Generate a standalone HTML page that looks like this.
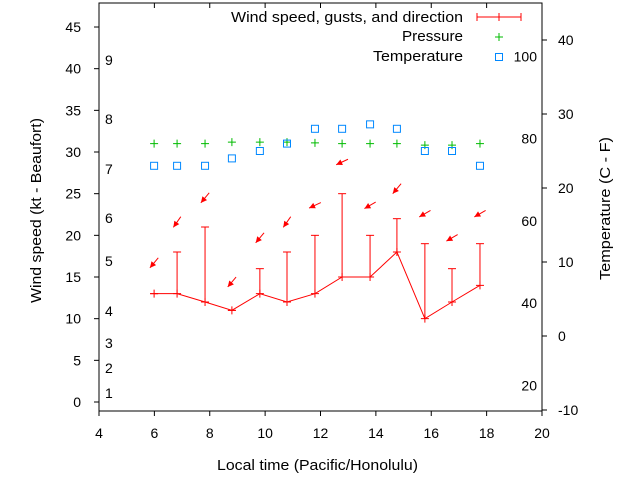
<!DOCTYPE html>
<html><head><meta charset="utf-8"><style>
body{margin:0;background:#fff}
svg{display:block;font-family:"Liberation Sans",sans-serif;font-size:14px}
</style></head><body>
<svg id="chart" width="640" height="480" viewBox="0 0 640 480">
<rect width="640" height="480" fill="#fff"/>
<g id="axes"></g><g id="marks"></g>
</svg>
<script>
const hours=[5.99,6.82,7.83,8.8,9.81,10.79,11.8,12.78,13.79,14.76,15.77,16.75,17.76];
const wind=[13,13,12,11,13,12,13,15,15,18,10,12,14];
const gusts=[13,18,21,11,16,18,20,25,20,22,19,16,19];
const dirDeg=[40,35,40,40,40,35,65,65,60,40,60,60,60];
const arrowKt=[16.7,21.6,24.5,14.4,19.7,21.6,23.6,28.8,23.6,25.6,22.6,19.7,22.6];
const pressure=[26,26,26,26.2,26.2,26.2,26.1,26,26,26,25.8,25.8,26];
const tempC=[23,23,23,24,25,26,28,28,28.6,28,25,25,23];
const xTicks=[4,6,8,10,12,14,16,18,20];
const yTicks=[0,5,10,15,20,25,30,35,40,45];
const y2Ticks=[-10,0,10,20,30,40];
const beaufort=[[1,393],[2,368],[3,343],[4,311],[5,261],[6,218],[7,169],[8,119],[9,60]];
const fahr=[20,40,60,80,100];

const L=99,R=542,T=3,B=411;
const X=h=>L+(h-4)*(R-L)/16;
const Y=k=>402-k*8.333;
const Y2=c=>336-c*7.4;
const NS='http://www.w3.org/2000/svg';
function mk(p,tag,at){const e=document.createElementNS(NS,tag);for(const k in at)e.setAttribute(k,at[k]);p.appendChild(e);return e;}
const ax=document.getElementById('axes'),mg=document.getElementById('marks');

let e=mk(ax,'rect',{x:L,y:T,width:R-L,height:B-T,fill:'none',stroke:'#000','stroke-width':1});

xTicks.forEach(v=>{const x=X(v);
 let t=mk(ax,'line',{x1:x,y1:B,x2:x,y2:B+5,stroke:'#000'});
 
 t=mk(ax,'line',{x1:x,y1:T,x2:x,y2:T+5,stroke:'#000'});
 
 t=mk(ax,'text',{x:x,y:438,'text-anchor':'middle'});t.textContent=v;
 });
yTicks.forEach(v=>{const y=Y(v);
 let t=mk(ax,'line',{x1:L-5,y1:y,x2:L,y2:y,stroke:'#000'});
 
 t=mk(ax,'text',{x:81,y:y+5,'text-anchor':'end'});t.textContent=v;
 });
y2Ticks.forEach(v=>{const y=Y2(v);
 let t=mk(ax,'line',{x1:R,y1:y,x2:R+5,y2:y,stroke:'#000'});
 
 t=mk(ax,'text',{x:558,y:y+5});t.textContent=v;
 });
beaufort.forEach(b=>{let t=mk(ax,'text',{x:105,y:b[1]+5});t.textContent=b[0];
 });
fahr.forEach(f=>{const c=(f-32)*5/9;let t=mk(ax,'text',{x:537,y:Y2(c)+5,'text-anchor':'end'});t.textContent=f;
 });
e=mk(ax,'text',{x:217,y:470,textLength:201,lengthAdjust:'spacingAndGlyphs','font-size':15});e.textContent='Local time (Pacific/Honolulu)';

e=mk(ax,'text',{x:-303,y:0,textLength:185,lengthAdjust:'spacingAndGlyphs','font-size':15,transform:'translate(41,0) rotate(-90)'});e.textContent='Wind speed (kt - Beaufort)';

e=mk(ax,'text',{x:-280,y:0,textLength:143,lengthAdjust:'spacingAndGlyphs','font-size':15,transform:'translate(610,0) rotate(-90)'});e.textContent='Temperature (C - F)';


e=mk(mg,'polyline',{points:hours.map((h,i)=>X(h)+','+Y(wind[i])).join(' '),fill:'none',stroke:'#f00','stroke-width':1});

hours.forEach((h,i)=>{const x=X(h);
 let t=mk(mg,'line',{x1:x,y1:Y(wind[i]),x2:x,y2:Y(gusts[i]),stroke:'#f00'});
 
 t=mk(mg,'line',{x1:x-4,y1:Y(gusts[i]),x2:x+4,y2:Y(gusts[i]),stroke:'#f00'});
 
 t=mk(mg,'path',{d:`M${x-4} ${Y(wind[i])}h8M${x} ${Y(wind[i])-4}v8`,stroke:'#f00'});
 
 const a=(dirDeg[i]+180)*Math.PI/180, dx=Math.sin(a), dy=-Math.cos(a);
 const cx=x, cy=Y(arrowKt[i]), len=13;
 const hx=cx+dx*len/2, hy=cy+dy*len/2, tx=cx-dx*len/2, ty=cy-dy*len/2;
 t=mk(mg,'line',{x1:tx,y1:ty,x2:hx,y2:hy,stroke:'#f00'});
 
 const px=-dy,py=dx;
 t=mk(mg,'polygon',{points:`${hx},${hy} ${hx-dx*6+px*3},${hy-dy*6+py*3} ${hx-dx*6-px*3},${hy-dy*6-py*3}`,fill:'#f00'});
 
 const py2=Y2(pressure[i]);
 t=mk(mg,'path',{d:`M${x-4} ${py2}h8M${x} ${py2-4}v8`,stroke:'#0b0'});
 
 t=mk(mg,'rect',{x:x-3.5,y:Y2(tempC[i])-3.5,width:7,height:7,fill:'none',stroke:'#08f'});
 
});
const lg=mk(mg,'g',{});
[['Wind speed, gusts, and direction',22,232],['Pressure',41,61],['Temperature',61,90]].forEach(l=>{
 let t=mk(lg,'text',{x:463-l[2],y:l[1],textLength:l[2],lengthAdjust:'spacingAndGlyphs','font-size':15});t.textContent=l[0];
 });
e=mk(lg,'path',{d:'M477 17h44M477 13v8M499 13v8M521 13v8',stroke:'#f00'});

e=mk(lg,'path',{d:'M495 37h8M499 33v8',stroke:'#0b0'});

e=mk(lg,'rect',{x:495.5,y:53.5,width:7,height:7,fill:'none',stroke:'#08f'});

</script>
</body></html>
